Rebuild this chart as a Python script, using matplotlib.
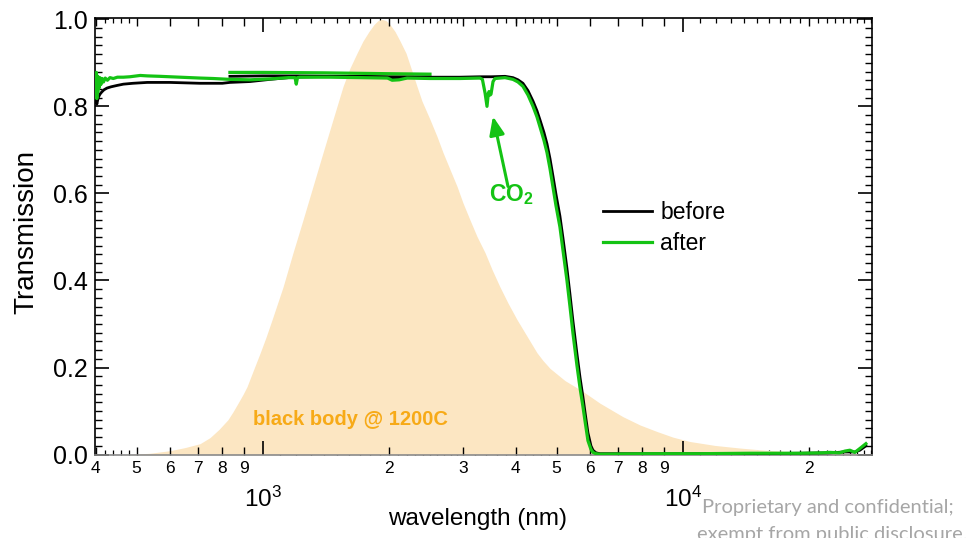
import matplotlib
matplotlib.use('Agg')
import matplotlib.pyplot as plt
from matplotlib.ticker import (FixedLocator, FixedFormatter, MultipleLocator,
                               FormatStrFormatter, NullFormatter, NullLocator)

plt.rcParams['font.family'] = ['Liberation Sans', 'DejaVu Sans']
plt.rcParams['mathtext.fontset'] = 'custom'
plt.rcParams['mathtext.rm'] = 'Liberation Sans'
plt.rcParams['mathtext.it'] = 'Liberation Sans:italic'
plt.rcParams['mathtext.bf'] = 'Liberation Sans:bold'

# ---------------- data ----------------
# black body @ 1200C, normalised (wavelength nm, relative intensity)
bb_wl = [482, 538, 601, 652, 708, 748, 786, 825, 848, 872, 896, 916, 947,
         984, 1017, 1051, 1116, 1179, 1245, 1315, 1390, 1468, 1551, 1611,
         1674, 1730, 1788, 1838, 1879, 1920, 1963, 2006, 2062, 2120, 2191,
         2251, 2326, 2391, 2498, 2596, 2683, 2788, 2898, 2994, 3111, 3233,
         3378, 3511, 3667, 3832, 4026, 4252, 4491, 4642, 4824, 5236, 5780,
         6345, 7197, 7901, 8672, 9468, 10391, 11918, 13669, 15677, 17982,
         20624, 23650, 28180]
bb_val = [0.0, 0.003, 0.009, 0.016, 0.025, 0.039, 0.058, 0.080, 0.098, 0.118,
          0.138, 0.156, 0.192, 0.233, 0.270, 0.310, 0.385, 0.464, 0.539,
          0.616, 0.694, 0.770, 0.846, 0.888, 0.922, 0.950, 0.972, 0.988,
          0.997, 1.000, 0.997, 0.988, 0.972, 0.950, 0.922, 0.888, 0.846,
          0.812, 0.770, 0.731, 0.694, 0.655, 0.616, 0.578, 0.539, 0.501,
          0.464, 0.425, 0.385, 0.348, 0.310, 0.272, 0.234, 0.216, 0.198,
          0.170, 0.145, 0.118, 0.087, 0.068, 0.053, 0.040, 0.030, 0.021,
          0.015, 0.010, 0.007, 0.005, 0.003, 0.002]

# "before" transmission
before_wl = [400, 401, 402, 404, 406, 409, 413, 418, 425, 435, 449, 465, 490,
             530, 600, 708, 800, 834, 931, 1039, 1179, 1444, 1702, 1980, 2040,
             2119, 2203, 2498, 2944, 3286, 3500, 3769, 3937, 4047, 4159, 4276,
             4395, 4491, 4566, 4667, 4745, 4824, 4903, 4985, 5094, 5179, 5294,
             5383, 5471, 5592, 5686, 5780, 5844, 5940, 6039, 6105, 6207, 6345,
             8340, 10980, 14440, 19000, 22390, 24310, 25670, 26390, 27270]
before_T = [0.830, 0.812, 0.805, 0.815, 0.822, 0.828, 0.833, 0.838, 0.842,
            0.845, 0.848, 0.851, 0.853, 0.855, 0.855, 0.853, 0.853, 0.855,
            0.857, 0.862, 0.867, 0.869, 0.869, 0.867, 0.863, 0.864, 0.866,
            0.867, 0.867, 0.868, 0.868, 0.869, 0.866, 0.861, 0.853, 0.836,
            0.812, 0.790, 0.769, 0.740, 0.714, 0.680, 0.640, 0.598, 0.548,
            0.498, 0.428, 0.368, 0.307, 0.232, 0.178, 0.132, 0.098, 0.050,
            0.020, 0.010, 0.004, 0.002, 0.002, 0.002, 0.002, 0.003, 0.004,
            0.006, 0.006, 0.010, 0.020]
# "before", second detector (overlap region)
before2_wl = [834, 1000, 1200, 1600, 2000, 2498]
before2_T = [0.869, 0.870, 0.870, 0.869, 0.868, 0.868]

# "after" transmission
after_wl = [400, 401, 402, 403, 404, 405, 407, 409, 411, 414, 417, 421, 426,
            432, 440, 450, 465, 482, 510, 530, 568, 634, 708, 760, 834, 931,
            1039, 1150, 1192, 1200, 1208, 1225, 1444, 1702, 1980, 2030, 2110,
            2203, 2498, 2944, 3286, 3330, 3380, 3415, 3440, 3453, 3475, 3491,
            3530, 3568, 3769, 3937, 4047, 4159, 4276, 4395, 4491, 4566, 4667,
            4745, 4824, 4903, 4985, 5094, 5179, 5294, 5383, 5471, 5592, 5686,
            5780, 5844, 5940, 6039, 6105, 6207, 6345, 8340, 10980, 14440,
            19000, 21500, 22390, 23590, 24310, 24980, 25670, 26390, 27270]
after_T = [0.840, 0.878, 0.818, 0.870, 0.832, 0.868, 0.842, 0.866, 0.850,
           0.864, 0.856, 0.865, 0.860, 0.866, 0.864, 0.867, 0.867, 0.868,
           0.871, 0.870, 0.869, 0.867, 0.865, 0.864, 0.862, 0.861, 0.863,
           0.866, 0.866, 0.851, 0.866, 0.867, 0.867, 0.866, 0.865, 0.860,
           0.861, 0.865, 0.864, 0.864, 0.865, 0.862, 0.830, 0.800, 0.830,
           0.834, 0.826, 0.828, 0.857, 0.864, 0.866, 0.862, 0.856, 0.846,
           0.826, 0.800, 0.776, 0.753, 0.722, 0.694, 0.657, 0.615, 0.572,
           0.523, 0.470, 0.400, 0.340, 0.279, 0.205, 0.154, 0.110, 0.078,
           0.032, 0.012, 0.005, 0.002, 0.001, 0.002, 0.002, 0.003, 0.003,
           0.004, 0.005, 0.004, 0.008, 0.010, 0.005, 0.014, 0.025]
# "after", second detector (overlap region)
after2_wl = [834, 1000, 1400, 2000, 2498]
after2_T = [0.878, 0.878, 0.877, 0.875, 0.874]

# axis ticks
major_ticks = [1000, 10000]
major_labels = ['$10^3$', '$10^4$']
minor_ticks = [400, 500, 600, 700, 800, 900, 2000, 3000, 4000, 5000, 6000,
               7000, 8000, 9000, 20000]
minor_labels = ['4', '5', '6', '7', '8', '9', '2', '3', '4', '5', '6', '7',
                '8', '9', '2']
sub_ticks = ([420, 440, 460, 480] + list(range(1100, 2000, 100)) +
             list(range(2100, 3000, 100)) + list(range(3200, 5000, 200)) +
             list(range(11000, 20000, 1000)) + list(range(21000, 29000, 1000)))

# ---------------- style ----------------
GREEN = '#14c314'
FILL = '#fce6c2'
ORANGE = '#f7aa17'
GREY = '#a6a6a6'

fig = plt.figure(figsize=(9.78, 5.38), dpi=100)
ax = fig.add_axes([95 / 978, 1 - 455 / 538, 777 / 978, 437 / 538])
ax.set_xscale('log')

ax.fill_between(bb_wl, bb_val, 0, color=FILL, lw=0, zorder=1)
l_before, = ax.plot(before_wl, before_T, color='black', lw=2.0, zorder=3)
ax.plot(before2_wl, before2_T, color='black', lw=2.0, zorder=3)
l_after, = ax.plot(after_wl, after_T, color=GREEN, lw=2.3, zorder=4)
ax.plot(after2_wl, after2_T, color=GREEN, lw=2.3, zorder=4)

ax.set_xlim(398, 28200)
ax.set_ylim(-0.001, 1.003)

# x ticks
ax.xaxis.set_major_locator(FixedLocator(major_ticks))
ax.xaxis.set_major_formatter(FixedFormatter(major_labels))
ax.xaxis.set_minor_locator(FixedLocator(minor_ticks))
ax.xaxis.set_minor_formatter(FixedFormatter(minor_labels))
ax.tick_params(axis='x', which='major', direction='in', length=10, width=1.2,
               pad=23, labelsize=17.5, top=True)
ax.tick_params(axis='x', which='minor', direction='in', length=6, width=1.0,
               pad=4, labelsize=12.5, top=True)
for loc in ('bottom', 'top'):
    sec = ax.secondary_xaxis(loc)
    sec.xaxis.set_major_locator(FixedLocator(sub_ticks))
    sec.xaxis.set_major_formatter(NullFormatter())
    sec.xaxis.set_minor_locator(NullLocator())
    sec.tick_params(direction='in', length=3.5, width=0.9)
    for s in sec.spines.values():
        s.set_visible(False)

# y ticks
ax.yaxis.set_major_locator(MultipleLocator(0.2))
ax.yaxis.set_major_formatter(FormatStrFormatter('%.1f'))
ax.yaxis.set_minor_locator(MultipleLocator(0.02))
ax.tick_params(axis='y', which='major', direction='in', length=10, width=1.2,
               labelsize=18, pad=5, right=True)
ax.tick_params(axis='y', which='minor', direction='in', length=5, width=1.0,
               right=True)

for s in ax.spines.values():
    s.set_linewidth(1.2)
ax.spines['bottom'].set_color('#8a8a8a')

# labels
fig.text(478 / 978, 1 - 525 / 538, 'wavelength (nm)', ha='center',
         va='baseline', fontsize=17.5)
fig.text(26 / 978, 1 - 232 / 538, 'Transmission', ha='center', va='center',
         rotation=90, fontsize=20)

# legend
ax.legend([l_before, l_after], ['before', 'after'], loc='upper left',
          bbox_to_anchor=(0.654, 0.581), frameon=False, fontsize=16.5,
          handlelength=2.15, handletextpad=0.35, labelspacing=0.35,
          borderpad=0, borderaxespad=0)

# annotations
ax.annotate('', xy=(3528, 0.777), xytext=(3832, 0.616),
            arrowprops=dict(arrowstyle='-|>,head_length=1.1,head_width=0.45',
                            color=GREEN, lw=2.2, shrinkA=0, shrinkB=0,
                            mutation_scale=10), zorder=5)
ax.text(3452, 0.582, r'CO$_\mathbf{2}$', ha='left', va='baseline',
        fontsize=16.5, fontweight='bold', color=GREEN, zorder=5)
ax.text(1611, 0.067, 'black body @ 1200C', ha='center', va='baseline',
        fontsize=14.5, fontweight='bold', color=ORANGE, zorder=2)

# watermark
fig.text(702 / 978, 1 - 513 / 538, 'Proprietary and confidential;',
         ha='left', va='baseline', fontsize=14.5, color=GREY, family='Lato')
fig.text(697 / 978, 1 - 540 / 538, 'exempt from public disclosure.',
         ha='left', va='baseline', fontsize=14.5, color=GREY, family='Lato')

fig.savefig('out.png', dpi=100)
